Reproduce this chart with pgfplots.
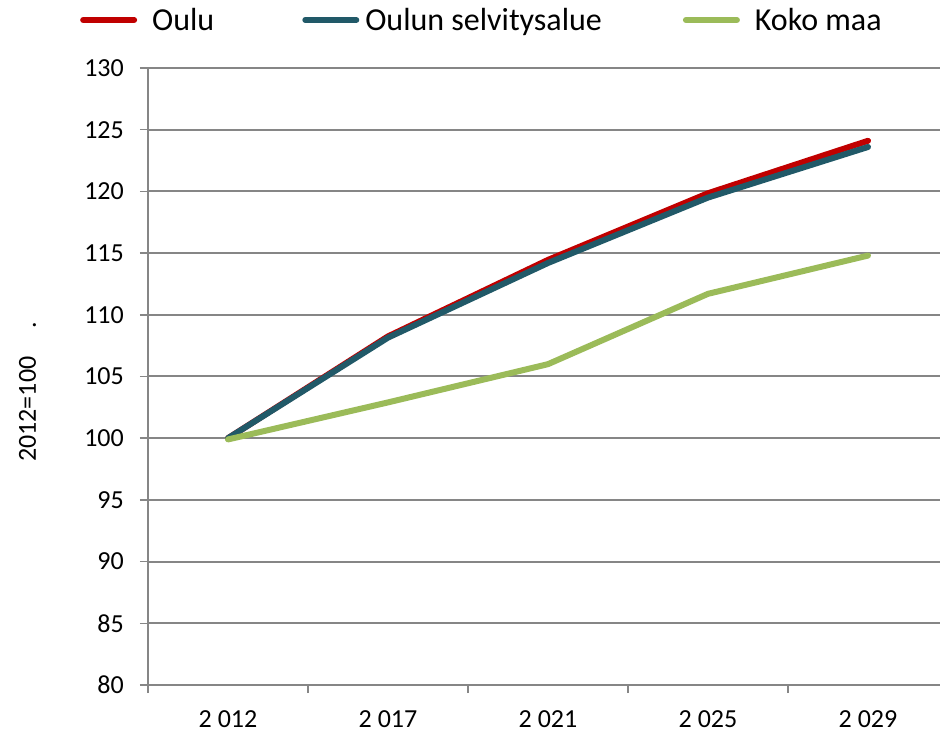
\documentclass[border=0pt]{standalone}
\usepackage{fontspec}
\setmainfont{Carlito}
\usepackage{pgfplots}
\pgfplotsset{compat=1.18}
\definecolor{oulured}{RGB}{192,0,0}
\definecolor{ouluteal}{RGB}{33,89,104}
\definecolor{kokogreen}{RGB}{155,187,89}
\definecolor{axgray}{RGB}{134,134,134}
\begin{document}
\begin{tikzpicture}
\useasboundingbox (0,0) rectangle (940bp,732bp);
\begin{axis}[
  at={(148bp,47bp)}, anchor=south west,
  scale only axis, width=792bp, height=617bp,
  xmin=-0.5, xmax=4.45, ymin=80, ymax=130,
  ytick={80,85,...,130},
  xtick={0,1,2,3,4},
  xticklabels={2 012, 2 017, 2 021, 2 025, 2 029},
  minor xtick={-0.5,0.5,1.5,2.5,3.5},
  tick align=outside,
  major tick length=8bp, minor tick length=8bp,
  major x tick style={draw=none},
  minor x tick style={draw=axgray, line width=1.5bp},
  major y tick style={draw=axgray, line width=1.5bp},
  axis x line*=bottom, axis y line*=left,
  axis line style={-, draw=axgray, line width=2.5bp},
  ymajorgrids,
  major grid style={draw=axgray, line width=2bp},
  /pgf/number format/assume math mode=true,
  ticklabel style={font=\fontsize{26bp}{30bp}\selectfont, inner sep=0pt},
  xticklabel style={anchor=north, yshift=-17bp},
  yticklabel style={anchor=east, xshift=-16bp},
  ylabel={2012=100\hspace*{28bp}.},
  ylabel style={at={(axis description cs:-0.1521,0.475)}, anchor=center, inner sep=0pt, font=\fontsize{26bp}{30bp}\selectfont},
  legend columns=-1,
  legend style={draw=none, fill=none, at={(axis description cs:-0.0897,1.0778)}, anchor=west, inner sep=0pt, column sep=0pt, nodes={inner sep=0pt}, font=\fontsize{32bp}{37bp}\selectfont},
  legend image code/.code={\draw[#1, line cap=round] (3bp,0bp) -- (54bp,0bp); \path (0bp,0bp) (57bp,0bp);},
]
\addplot[color=oulured, line width=6bp, line cap=round, line join=round] coordinates {(0,100) (1,108.25) (2,114.45) (3,119.85) (4,124.1)};
\addlegendentry{\hspace*{12bp}Oulu\hspace*{85bp}}
\addplot[color=ouluteal, line width=6bp, line cap=round, line join=round] coordinates {(0,100) (1,108.15) (2,114.2) (3,119.5) (4,123.6)};
\addlegendentry{\hspace*{3bp}Oulun selvitysalue\hspace*{78bp}}
\addplot[color=kokogreen, line width=6bp, line cap=round, line join=round] coordinates {(0,99.9) (1,102.9) (2,106.0) (3,111.7) (4,114.8)};
\addlegendentry{\hspace*{12bp}Koko maa}
\end{axis}
\end{tikzpicture}
\end{document}
